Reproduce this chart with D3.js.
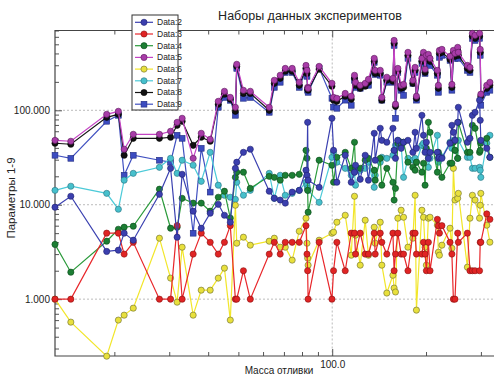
<!DOCTYPE html>
<html><head><meta charset="utf-8">
<script src="https://cdn.jsdelivr.net/npm/d3@7"></script>
<style>body{margin:0;background:#fff;}svg{display:block;font-family:"Liberation Sans",Arial,sans-serif;}</style>
</head><body><svg id="c" width="494" height="376"></svg>
<script>
const xValues = [12.9,14.5,18.9,20.6,21.5,23.0,27.9,30.3,31.8,33.0,
 35.8,38.0,40.6,43.1,45.1,47.1,48.9,49.4,51.9,54.6,
 62.8,65.2,68.1,70.7,74.4,78.4,82.4,83.0,83.4,83.7,
 90.8,99.8,101,103.5,110.1,115.1,117.9,118.8,123.0,127.6,
 130.7,136.4,137.4,142.6,144.3,149.7,156.6,158.0,159.6,162.4,
 166.4,169.4,175.0,181.5,184.5,186.3,194.0,196.3,198.6,200.5,
 203.5,206.0,217.5,219.1,220.8,224.9,238.8,242.1,244.8,247.7,
 252.7,253.9,271.5,276.7,281.7,287.3,297.0,298.5,299.8,313.3,320.6];

const data2 = [9.41,12.3,3.2,3.3,5.0,4.21,12.9,24.3,4.53,21.0,
 8.54,5.64,8.13,10.1,7.74,6.53,24.3,28.2,35.9,38.7,
 13.9,11.7,11.2,10.4,13.6,14.2,23.2,20.5,74.6,18.2,
 15.3,82.3,37.7,17.3,33.4,17.3,22.1,26.2,18.6,33.4,
 18.2,57.1,29.6,64.5,48.1,45.9,64.5,37.7,31.0,48.1,
 39.6,45.9,48.1,35.9,58.5,39.6,88.5,54.4,35.9,45.9,
 31.0,35.9,35.9,31.0,31.8,31.0,44.8,69.4,58.5,48.1,
 74.6,107.6,45.9,50.5,88.5,95.2,128,78.4,48.1,39.6,31.8];

const data3 = [1,1,5,5,3,4,1,1,6,1,
 3,5,4,3,4,6,1,1,2,1,
 3,4,3,4,4,4,6,3,2,1,
 4,1,2,4,2,5,5,3,5,3,
 3,5,3,5,4,3,5,2,3,5,
 3,3,2,5,5,3,3,4,3,2,
 4,2,7,6,5,6,4,3,1,1,
 5,4,5,2,2,2,2,4,4,8,7];

const data4 = [3.8,1.93,4.11,5.50,5.78,5.92,14.6,5.64,5.78,11.7,
 10.4,10.4,8.54,12.0,13.9,7.20,19.5,22.1,22.1,14.9,
 20.0,19.5,18.2,20.5,20.5,21.0,37.7,31.0,14.2,8.33,
 29.6,26.2,17.3,31.8,35.9,24.3,45.9,24.3,24.3,29.6,
 31.0,23.2,18.2,31.0,16.1,24.3,17.3,11.2,14.9,44.8,
 45.9,45.9,28.2,24.9,23.2,28.2,22.1,27.5,16.1,39.6,
 74.6,58.5,22.1,35.9,31.8,19.5,27.5,27.5,45.9,37.7,
 31.0,74.6,35.9,35.9,69.4,64.5,35.9,37.7,44.8,50.5,31.8];

const data5 = [48.1,47.0,90.7,97.6,38.7,55.7,55.7,60.0,74.6,82.3,
 31.0,57.1,49.3,124.5,159,137,107.6,307,163,159,
 107.6,208,235,278,278,198,299,265,175,171,
 292,193,137,134,151,141,235,198,184,193,
 213,355,265,265,137,224,218,550,116,278,
 184,188,411,208,285,141,355,411,272,382,
 391,355,265,184,431,442,373,188,431,401,
 464,411,299,285,653,622,653,442,148,184,198];

const data6 = [1.0,0.571,0.249,0.600,0.677,0.803,4.42,1.67,0.929,3.55,
 0.677,1.245,1.245,1.67,2.13,0.600,9.88,3.91,4.53,3.73,
 4.11,4.42,3.55,3.55,2.59,5.24,7.20,3.91,2.72,2.29,
 4.21,4.99,5.12,6.53,7.74,2.92,12.3,4.76,2.29,6.86,
 2.92,5.78,3.91,6.53,2.29,1.16,1.79,1.31,1.19,7.20,
 8.75,7.37,3.55,4.42,12.6,0.765,8.75,7.37,3.55,2.29,
 7.20,7.37,6.07,3.14,2.92,3.73,5.64,3.46,24.3,11.2,
 11.7,13.2,2.18,7.20,12.6,11.2,7.20,9.88,13.2,6.07,4.01];

const data7 = [14.2,15.7,13.2,8.96,18.2,21.5,24.9,31.0,21.5,29.6,
 26.2,17.7,35.9,16.1,12.6,12.0,11.4,17.3,12.6,14.2,
 21.5,11.7,20.5,12.6,13.2,14.2,17.3,16.1,14.9,14.2,
 10.6,31.8,35.9,28.2,24.3,20.5,22.1,16.1,23.2,24.3,
 28.2,15.3,20.5,28.2,31.8,31.0,33.4,37.7,42.6,48.1,
 42.6,19.5,31.0,29.6,31.0,28.2,42.6,44.8,40.6,37.7,
 24.9,31.0,54.4,28.2,33.4,31.8,45.9,39.6,48.1,37.7,
 31.0,48.1,31.8,31.8,24.3,24.3,24.9,23.2,19.5,44.8,54.4];

const data8 = [44.8,43.7,84.3,90.7,33.4,50.5,50.5,51.8,69.4,76.5,
 42.6,51.8,47.0,116,148,131,97.6,292,151,151,
 100,193,218,259,259,184,278,246,167,163,
 272,180,128,124.5,141,131,218,184,171,180,
 198,330,246,246,128,208,203,512,110,259,
 171,175,382,193,265,134,330,382,252,355,
 364,330,246,171,401,411,346,175,401,373,
 431,382,278,265,607,578,607,411,141,171,184];

const data9 = [33.4,31.0,76.5,88.5,20.5,33.4,29.6,28.2,54.4,50.5,
 4.99,39.6,13.6,107.6,137,127.6,88.5,278,134,137,
 95.2,175,198,252,252,175,265,229,163,155,
 278,134,108,105,128,113,208,175,171,184,
 184,322,240,235,128,198,198,487,82.3,252,
 163,144,355,193,252,128,314,355,246,314,
 338,299,235,155,364,382,338,163,364,355,
 411,355,265,252,578,550,578,382,113,155,163];

const seriesNames = ["Data:2","Data:3","Data:4","Data:5","Data:6","Data:7","Data:8","Data:9"];
const seriesValues = [data2,data3,data4,data5,data6,data7,data8,data9];
const lineColors = ["#3a40b0","#e8262a","#2a9a3a","#c444c4","#f2e62a","#4ccad8","#151515","#4050c0"];
const fillColors = ["#3b3fae","#e02424","#1c7e34","#a83ca8","#e8e03c","#46c0cc","#111111","#3c4cc0"];
const strokeColors = ["#1e2070","#8a1010","#0a4a1a","#5a1a5a","#6a6a30","#2a7080","#000000","#202a80"];
const markerShapes = ["circle","circle","circle","circle","circle","circle","circle","square"];

const yMajorTicks = [1,10,100];
const yTickLabels = ["1.000","10.000","100.000"];
const xMajorTicks = [100];
const xTickLabels = ["100.0"];
const xMinorTicks = [20,30,40,50,60,70,80,90,200,300];

const titleText = "Наборы данных экспериментов";
const xLabel = "Масса отливки";
const yLabel = "Параметры 1-9";

const L = 55, R = 501, T = 30.5, B = 356;
const svg = d3.select("#c");
const x = d3.scaleLog().domain([12.9, 348]).range([L, R]);
const y = d3.scaleLog().domain([0.25, 700]).range([B, T]);

// grid
const grid = svg.append("g").attr("stroke","#aaa").attr("stroke-width",0.8).attr("stroke-dasharray","2,2");
yMajorTicks.forEach(v => grid.append("line").attr("x1",L).attr("x2",R).attr("y1",y(v)).attr("y2",y(v)));
xMajorTicks.forEach(v => grid.append("line").attr("x1",x(v)).attr("x2",x(v)).attr("y1",T).attr("y2",B));

// minor y ticks
const yMinor = [];
[0.1,1,10,100].forEach(d => {for(let k=2;k<=9;k++){const v=d*k; if(v>=0.25 && v<=700) yMinor.push(v);}});

function styleAxis(g){ g.select(".domain").remove(); g.selectAll("line").attr("stroke","#555"); g.selectAll("text").attr("fill","#222").style("font-size","10px").style("font-family","'Liberation Sans',Arial,sans-serif"); }

svg.append("g").attr("transform",`translate(${L},0)`).call(d3.axisLeft(y).tickValues(yMinor).tickSize(-4).tickFormat("")).call(styleAxis);
svg.append("g").attr("transform",`translate(${L},0)`).call(d3.axisLeft(y).tickValues(yMajorTicks).tickSize(-7).tickPadding(5).tickFormat((d,i)=>yTickLabels[i])).call(styleAxis);
svg.append("g").attr("transform",`translate(0,${T})`).call(d3.axisTop(x).tickValues(xMinorTicks).tickSize(-4).tickFormat("")).call(styleAxis);
svg.append("g").attr("transform",`translate(0,${T})`).call(d3.axisTop(x).tickValues(xMajorTicks).tickSize(-7).tickFormat("")).call(styleAxis);
svg.append("g").attr("transform",`translate(0,${B})`).call(d3.axisBottom(x).tickValues(xMinorTicks).tickSize(-4).tickFormat("")).call(styleAxis);
svg.append("g").attr("transform",`translate(0,${B})`).call(d3.axisBottom(x).tickValues(xMajorTicks).tickSize(-7).tickPadding(5).tickFormat((d,i)=>xTickLabels[i])).call(styleAxis);

// frame
const fr = svg.append("g").attr("stroke","#444").attr("stroke-width",1.2).attr("fill","none");
fr.append("path").attr("d",`M${R},${T}H${L}V${B}H${R}`);

// series (drawn in reverse order so Data:2 is on top)
const plot = svg.append("g");
const line = d3.line().x((d,i)=>x(xValues[i])).y(d=>y(d));
function drawMarker(g, shape, cx, cy, i, s){
  if(shape==="square") g.append("rect").attr("x",cx-s).attr("y",cy-s).attr("width",2*s).attr("height",2*s)
     .attr("fill",fillColors[i]).attr("stroke",strokeColors[i]).attr("stroke-width",0.6);
  else g.append("circle").attr("cx",cx).attr("cy",cy).attr("r",s)
     .attr("fill",fillColors[i]).attr("stroke",strokeColors[i]).attr("stroke-width",0.6);
}
for(let i=seriesValues.length-1;i>=0;i--){
  const vals = seriesValues[i];
  const g = plot.append("g");
  g.append("path").attr("d",line(vals)).attr("fill","none").attr("stroke",lineColors[i]).attr("stroke-width",1.2);
  vals.forEach((v,j)=>drawMarker(g, markerShapes[i], x(xValues[j]), y(v), i, markerShapes[i]==="square"?2.9:3.1));
}

// legend
const lg = svg.append("g");
lg.append("rect").attr("x",132).attr("y",15).attr("width",46).attr("height",95).attr("fill","#fff").attr("stroke","#333").attr("stroke-width",1);
seriesNames.forEach((n,i)=>{
  const yy = 22.3 + i*11.7;
  lg.append("line").attr("x1",135).attr("x2",153).attr("y1",yy).attr("y2",yy).attr("stroke",lineColors[i]).attr("stroke-width",1.2);
  drawMarker(lg, markerShapes[i], 144, yy, i, markerShapes[i]==="square"?2.9:3.1);
  lg.append("text").attr("x",157).attr("y",yy).attr("dy","0.35em").attr("fill","#222").style("font-size","8.5px").text(n);
});

// titles
svg.append("text").attr("x",310).attr("y",20).attr("text-anchor","middle").attr("fill","#222").style("font-size","12.5px").text(titleText);
svg.append("text").attr("x",279).attr("y",374).attr("text-anchor","middle").attr("fill","#222").style("font-size","10px").text(xLabel);
svg.append("text").attr("transform","translate(15,198) rotate(-90)").attr("text-anchor","middle").attr("fill","#222").style("font-size","11.5px").text(yLabel);
</script></body></html>
